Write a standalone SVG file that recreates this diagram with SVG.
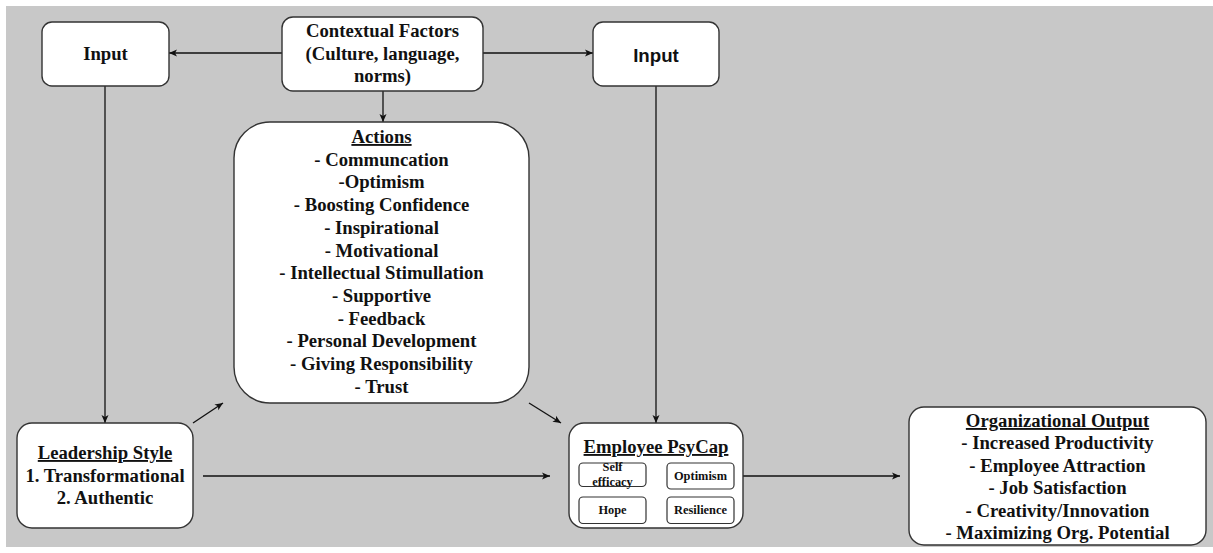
<svg xmlns="http://www.w3.org/2000/svg" width="1213" height="553" viewBox="0 0 1213 553">
<style>
.box{fill:#fff;stroke:#333;stroke-width:1.4}
.sub{fill:#fff;stroke:#333;stroke-width:1.2}
.t{font-family:"Liberation Serif","Times New Roman",serif;font-weight:bold;font-size:18.7px;fill:#111;text-anchor:middle}
.s{font-family:"Liberation Serif","Times New Roman",serif;font-weight:bold;font-size:12.4px;fill:#111;text-anchor:middle}
.a{font-family:"Liberation Sans",Arial,sans-serif;font-weight:bold;font-size:18.7px;fill:#111;text-anchor:middle}
.u{text-decoration:underline}
.c{stroke:#111;stroke-width:1.3;fill:none;marker-end:url(#ah)}
</style>
<defs>
<marker id="ah" markerUnits="userSpaceOnUse" markerWidth="10" markerHeight="10" viewBox="0 0 10 10" refX="9" refY="5" orient="auto">
<path d="M1,1.5 L9,5 L1,8.5 L3,5 z" fill="#111"/>
</marker>
</defs>
<rect x="6" y="6" width="1207" height="541" fill="#c8c8c8"/>
<g id="connectors">
<line class="c" x1="282" y1="53" x2="169" y2="53"/>
<line class="c" x1="483" y1="53" x2="593" y2="53"/>
<line class="c" x1="383" y1="91" x2="383" y2="122"/>
<line class="c" x1="105" y1="86" x2="105" y2="423"/>
<line class="c" x1="656" y1="86" x2="656" y2="423"/>
<line class="c" x1="193" y1="423" x2="223" y2="403"/>
<line class="c" x1="529" y1="403" x2="561" y2="423"/>
<line class="c" x1="203" y1="476" x2="550" y2="476"/>
<line class="c" x1="743" y1="476" x2="900" y2="476"/>
</g>
<g id="input-left">
<rect class="box" x="42" y="22" width="127" height="64" rx="10"/>
<text class="t" x="105.5" y="60">Input</text>
</g>
<g id="contextual">
<rect class="box" x="282" y="17" width="201" height="74" rx="11"/>
<text class="t" x="382.5" y="37">Contextual Factors</text>
<text class="t" x="382.5" y="59.5">(Culture, language,</text>
<text class="t" x="382.5" y="82">norms)</text>
</g>
<g id="input-right">
<rect class="box" x="593" y="22" width="126" height="64" rx="10"/>
<text class="a" x="656" y="62">Input</text>
</g>
<g id="actions">
<rect class="box" x="234" y="122" width="295" height="281" rx="36"/>
<text class="t u" x="381.5" y="143">Actions</text>
<text class="t" x="381.5" y="165.7">- Communcation</text>
<text class="t" x="381.5" y="188.4">-Optimism</text>
<text class="t" x="381.5" y="211.1">- Boosting Confidence</text>
<text class="t" x="381.5" y="233.8">- Inspirational</text>
<text class="t" x="381.5" y="256.5">- Motivational</text>
<text class="t" x="381.5" y="279.2">- Intellectual Stimullation</text>
<text class="t" x="381.5" y="301.9">- Supportive</text>
<text class="t" x="381.5" y="324.6">- Feedback</text>
<text class="t" x="381.5" y="347.3">- Personal Development</text>
<text class="t" x="381.5" y="370">- Giving Responsibility</text>
<text class="t" x="381.5" y="392.7">- Trust</text>
</g>
<g id="leadership">
<rect class="box" x="17" y="423" width="176" height="105" rx="15"/>
<text class="t u" x="105" y="459">Leadership Style</text>
<text class="t" x="105" y="481.5">1. Transformational</text>
<text class="t" x="105" y="504">2. Authentic</text>
</g>
<g id="psycap">
<rect class="box" x="569" y="423" width="174" height="105" rx="15"/>
<text class="t u" x="656" y="453">Employee PsyCap</text>
<g id="self-efficacy">
<rect class="sub" x="579" y="463" width="67" height="23.5" rx="4"/>
<text class="s" x="612.5" y="471">Self</text>
<text class="s" x="612.5" y="486">efficacy</text>
</g>
<g id="optimism">
<rect class="sub" x="667" y="463" width="67" height="26" rx="4"/>
<text class="s" x="700.5" y="480">Optimism</text>
</g>
<g id="hope">
<rect class="sub" x="579" y="497" width="67" height="26.5" rx="4"/>
<text class="s" x="612.5" y="514">Hope</text>
</g>
<g id="resilience">
<rect class="sub" x="667" y="497" width="67" height="26.5" rx="4"/>
<text class="s" x="700.5" y="514">Resilience</text>
</g>
</g>
<g id="output">
<rect class="box" x="909" y="407" width="297" height="138" rx="15"/>
<text class="t u" x="1057.5" y="427">Organizational Output</text>
<text class="t" x="1057.5" y="449.4">- Increased Productivity</text>
<text class="t" x="1057.5" y="471.8">- Employee Attraction</text>
<text class="t" x="1057.5" y="494.2">- Job Satisfaction</text>
<text class="t" x="1057.5" y="516.6">- Creativity/Innovation</text>
<text class="t" x="1057.5" y="539">- Maximizing Org. Potential</text>
</g>
</svg>
